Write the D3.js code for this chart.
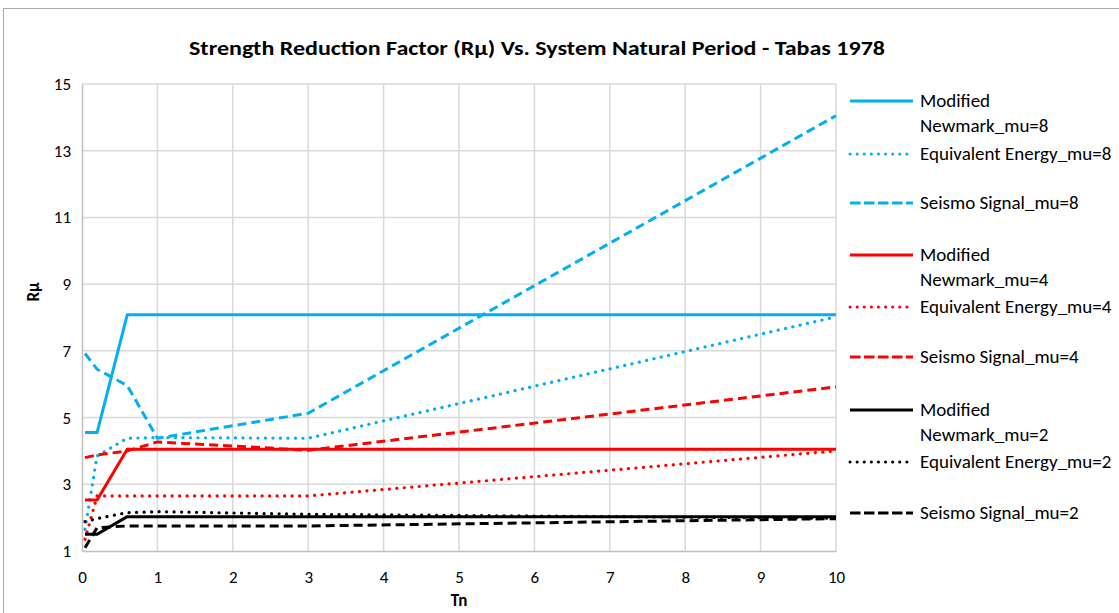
<!DOCTYPE html>
<html><head><meta charset="utf-8">
<script src="https://cdn.jsdelivr.net/npm/d3@7"></script>
<style>body{margin:0;background:#fff}svg{display:block}text{font-family:Carlito,"Liberation Sans Narrow","Open Sans",sans-serif}</style>
</head><body><svg id="c" width="1119" height="613"></svg>
<script>
const periods = [0.04, 0.2, 0.6, 1, 3, 10];
const mn8 = [4.55, 4.55, 8.08, 8.08, 8.08, 8.08];
const ee8 = [1.65, 3.85, 4.38, 4.4, 4.38, 8.02];
const ss8 = [6.92, 6.45, 5.96, 4.38, 5.13, 14.05];
const mn4 = [2.53, 2.53, 4.05, 4.05, 4.05, 4.05];
const ee4 = [1.35, 2.65, 2.65, 2.65, 2.65, 4.0];
const ss4 = [3.8, 3.88, 4.0, 4.27, 4.02, 5.92];
const mn2 = [1.5, 1.5, 2.03, 2.03, 2.03, 2.03];
const ee2 = [1.88, 1.97, 2.15, 2.18, 2.1, 1.98];
const ss2 = [1.1, 1.7, 1.75, 1.75, 1.75, 1.97];
const seriesNames = ["Modified Newmark_mu=8","Equivalent Energy_mu=8","Seismo Signal_mu=8",
  "Modified Newmark_mu=4","Equivalent Energy_mu=4","Seismo Signal_mu=4",
  "Modified Newmark_mu=2","Equivalent Energy_mu=2","Seismo Signal_mu=2"];
const seriesValues = [mn8, ee8, ss8, mn4, ee4, ss4, mn2, ee2, ss2];
const seriesColors = ["#00B0F0","#00B0F0","#00B0F0","#FF0000","#FF0000","#FF0000","#000000","#000000","#000000"];
const seriesStyles = ["solid","dot","dash","solid","dot","dash","solid","dot","dash"];
const xTicks = [0,1,2,3,4,5,6,7,8,9,10];
const yTicks = [1,3,5,7,9,11,13,15];
const title = "Strength Reduction Factor (Rμ) Vs. System Natural Period - Tabas 1978";

const svg = d3.select("#c");
svg.append("rect").attr("x",3.5).attr("y",8.5).attr("width",1130).attr("height",620)
  .attr("fill","none").attr("stroke","#ABABAB").attr("stroke-width",1);

const L=82, R=836, T=84, B=551;
const x = d3.scaleLinear().domain([0,10]).range([L,R]);
const y = d3.scaleLinear().domain([1,15]).range([B,T]);

// grid
const g = svg.append("g");
g.selectAll(".gx").data(xTicks.slice(1)).join("line")
  .attr("x1",d=>x(d)).attr("x2",d=>x(d)).attr("y1",T).attr("y2",B)
  .attr("stroke","#D9D9D9").attr("stroke-width",1.5);
g.selectAll(".gy").data(yTicks.slice(1)).join("line")
  .attr("x1",L).attr("x2",R).attr("y1",d=>y(d)).attr("y2",d=>y(d))
  .attr("stroke","#D9D9D9").attr("stroke-width",1.5);

// axes
const xa = svg.append("g").attr("transform",`translate(0,${B})`)
  .call(d3.axisBottom(x).tickValues(xTicks).tickSize(0).tickPadding(20).tickFormat(d3.format("d")));
const ya = svg.append("g").attr("transform",`translate(${L},0)`)
  .call(d3.axisLeft(y).tickValues(yTicks).tickSize(0).tickPadding(11).tickFormat(d3.format("d")));
[xa,ya].forEach(a=>{
  a.select(".domain").attr("stroke","#BFBFBF").attr("stroke-width",1.5);
  a.selectAll("text").attr("font-size",17).attr("fill","#000")
   .style("font-family",'Carlito,"Liberation Sans Narrow","Open Sans",sans-serif');
});

const dashFor = s => s==="dash" ? "9,5" : s==="dot" ? "0.1,7.4" : null;
const line = d3.line().x((d,i)=>x(periods[i])).y(d=>y(d));
seriesValues.forEach((vals,i)=>{
  svg.append("path").datum(vals).attr("d",line).attr("fill","none")
    .attr("stroke",seriesColors[i])
    .attr("stroke-width", seriesStyles[i]==="dot"?3.2:3)
    .attr("stroke-linecap", seriesStyles[i]==="dot"?"round":"butt")
    .attr("stroke-linejoin","round")
    .attr("stroke-dasharray",dashFor(seriesStyles[i]));
});

// title & axis titles
svg.append("text").attr("x",537).attr("y",55).attr("text-anchor","middle")
  .attr("font-size",20.5).attr("font-weight","bold").attr("textLength",696).attr("lengthAdjust","spacingAndGlyphs")
  .text(title);
svg.append("text").attr("x",459).attr("y",606).attr("text-anchor","middle")
  .attr("font-size",17).attr("font-weight","bold").text("Tn");
svg.append("text").attr("transform","translate(39,292) rotate(-90)").attr("text-anchor","middle")
  .attr("font-size",17).attr("font-weight","bold").text("Rμ");

// legend
const legY = [101,154,203,255,307,357,410,462,513];
const leg = svg.append("g");
seriesNames.forEach((n,i)=>{
  const ly = legY[i];
  leg.append("line").attr("x1",850).attr("x2",913).attr("y1",ly).attr("y2",ly)
    .attr("stroke",seriesColors[i]).attr("stroke-width",seriesStyles[i]==="dot"?3:3.2)
    .attr("stroke-linecap",seriesStyles[i]==="dot"?"round":"butt")
    .attr("stroke-dasharray",seriesStyles[i]==="dash"?"10.5,3.5":seriesStyles[i]==="dot"?"0.1,7":null);
  const words = n.startsWith("Modified") ? ["Modified", n.replace("Modified ","")] : [n];
  const t = leg.append("text").attr("x",920).attr("y",ly+6).attr("font-size",19).attr("fill","#000");
  words.forEach((w,j)=>t.append("tspan").attr("x",920).attr("dy",j?25:0).text(w));
});
</script></body></html>
